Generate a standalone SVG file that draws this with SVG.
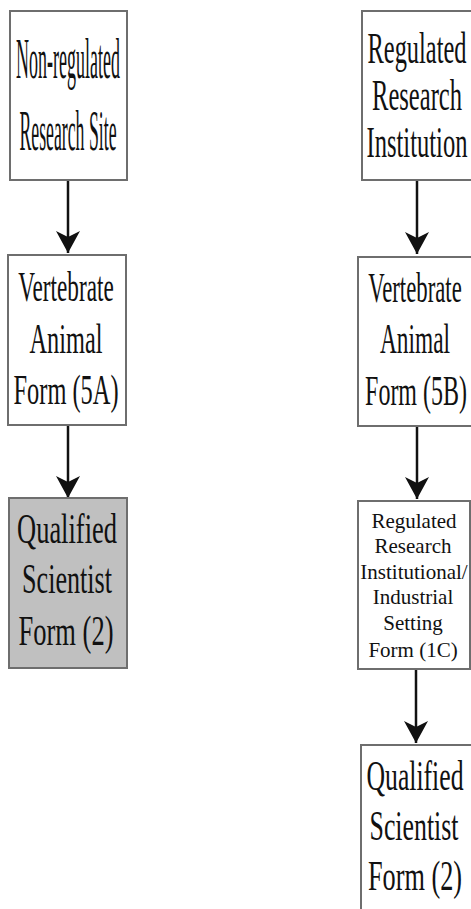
<svg xmlns="http://www.w3.org/2000/svg" width="471" height="909" viewBox="0 0 471 909">
  <style>
    .box { fill: #ffffff; stroke: #6e6e6e; stroke-width: 2; }
    .shaded { fill: #c0c0c0; }
    .t { font-family: "Liberation Serif", "Times New Roman", serif; font-size: 42px; fill: #111; text-anchor: middle; }
    .big { font-size: 58px; }
    .med { font-size: 44px; }
    .small { font-size: 21px; }
    .conn { stroke: #111; stroke-width: 2.5; fill: none; marker-end: url(#arrow); }
  </style>
  <defs>
    <marker id="arrow" markerUnits="userSpaceOnUse" markerWidth="22" markerHeight="24" viewBox="0 0 22 24" refX="22" refY="12" orient="auto">
      <path d="M0,0 L22,12 L0,24 L6,12 Z" fill="#111"/>
    </marker>
  </defs>

  <g id="connectors">
    <line class="conn" x1="68" y1="180" x2="68" y2="253"/>
    <line class="conn" x1="68" y1="425" x2="68" y2="498"/>
    <line class="conn" x1="417" y1="180" x2="417" y2="254"/>
    <line class="conn" x1="417" y1="426" x2="417" y2="499"/>
    <line class="conn" x1="416" y1="669" x2="416" y2="743"/>
  </g>

  <g id="nonregulated-site">
    <rect class="box" x="10" y="11" width="117" height="169"/>
    <text class="t big" transform="translate(68,78) scale(0.31,1)">Non-regulated</text>
    <text class="t big" transform="translate(68,150) scale(0.306,1)">Research Site</text>
  </g>

  <g id="vertebrate-5a">
    <rect class="box" x="8" y="255" width="118" height="170"/>
    <text class="t" transform="translate(66,301) scale(0.553,1)">Vertebrate</text>
    <text class="t" transform="translate(66,353) scale(0.579,1)">Animal</text>
    <text class="t" transform="translate(66,404) scale(0.581,1)">Form (5A)</text>
  </g>

  <g id="qualified-scientist-left">
    <rect class="box shaded" x="9" y="498" width="118" height="170"/>
    <text class="t" transform="translate(67,543) scale(0.63,1)">Qualified</text>
    <text class="t" transform="translate(67,593) scale(0.622,1)">Scientist</text>
    <text class="t" transform="translate(66,645) scale(0.631,1)">Form (2)</text>
  </g>

  <g id="regulated-institution">
    <rect class="box" x="362" y="11" width="113" height="169"/>
    <text class="t med" transform="translate(417,63) scale(0.555,1)">Regulated</text>
    <text class="t med" transform="translate(417,110) scale(0.558,1)">Research</text>
    <text class="t med" transform="translate(417,157) scale(0.558,1)">Institution</text>
  </g>

  <g id="vertebrate-5b">
    <rect class="box" x="358" y="257" width="117" height="169"/>
    <text class="t" transform="translate(415,302) scale(0.542,1)">Vertebrate</text>
    <text class="t" transform="translate(415,353) scale(0.556,1)">Animal</text>
    <text class="t" transform="translate(416,405) scale(0.571,1)">Form (5B)</text>
  </g>

  <g id="institutional-setting-1c">
    <rect class="box" x="358" y="501" width="112" height="168"/>
    <text class="t small" x="414" y="528">Regulated</text>
    <text class="t small" x="413" y="553">Research</text>
    <text class="t small" x="414" y="579">Institutional/</text>
    <text class="t small" x="413" y="604">Industrial</text>
    <text class="t small" x="413" y="630">Setting</text>
    <text class="t small" x="413" y="657">Form (1C)</text>
  </g>

  <g id="qualified-scientist-right">
    <rect class="box" x="361" y="745" width="114" height="175"/>
    <text class="t" transform="translate(415,790) scale(0.612,1)">Qualified</text>
    <text class="t" transform="translate(414,840) scale(0.615,1)">Scientist</text>
    <text class="t" transform="translate(415,890) scale(0.625,1)">Form (2)</text>
  </g>
</svg>
